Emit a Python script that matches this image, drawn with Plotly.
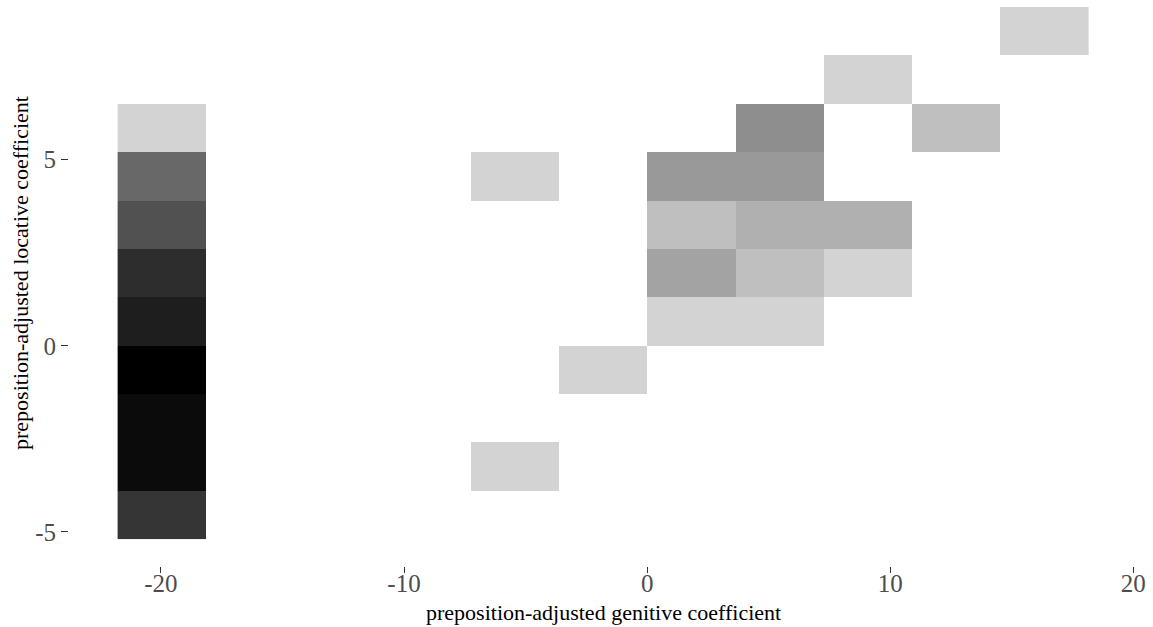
import numpy as np
import plotly.graph_objects as go

# ---- data: 2-D binned counts (bin centres) ----
bin_w_x = 3.63
bin_w_y = 1.3
cell_x = [-19.965, -19.965, -19.965, -19.965, -19.965, -19.965, -19.965, -19.965, -19.965,
          -5.445, -5.445, -1.815,
          1.815, 1.815, 1.815, 1.815,
          5.445, 5.445, 5.445, 5.445, 5.445,
          9.075, 9.075, 9.075,
          12.705, 16.335]
cell_y = [-4.55, -3.25, -1.95, -0.65, 0.65, 1.95, 3.25, 4.55, 5.85,
          -3.25, 4.55, -0.65,
          0.65, 1.95, 3.25, 4.55,
          0.65, 1.95, 3.25, 4.55, 5.85,
          1.95, 3.25, 7.15,
          5.85, 8.45]
cell_n = [21, 32, 32, 34, 27, 23, 15, 11, 1,
          1, 1, 1,
          1, 4, 2, 5,
          1, 2, 3, 5, 6,
          1, 3, 1,
          2, 1]

x_ticks = [-20, -10, 0, 10, 20]
y_ticks = [-5, 0, 5]

# ---- build grid ----
xs = np.round(np.arange(min(cell_x), max(cell_x) + bin_w_x / 2, bin_w_x), 3)
ys = np.round(np.arange(min(cell_y), max(cell_y) + bin_w_y / 2, bin_w_y), 3)
z = np.full((len(ys), len(xs)), np.nan)
cnt = np.full((len(ys), len(xs)), np.nan)
for cx, cy, n in zip(cell_x, cell_y, cell_n):
    i = int(np.argmin(np.abs(ys - cy)))
    j = int(np.argmin(np.abs(xs - cx)))
    z[i, j] = np.sqrt(n)
    cnt[i, j] = n


# colour scale: lightgray -> black, interpolated in Lab lightness
def lab_gray(L):
    fy = (L + 16) / 116
    Y = fy ** 3 if L > 8 else L / 903.3
    s = 12.92 * Y if Y <= 0.0031308 else 1.055 * Y ** (1 / 2.4) - 0.055
    v = int(round(max(0, min(1, s)) * 255))
    return f"rgb({v},{v},{v})"


L_low = 84.56
stops = np.linspace(0, 1, 21)
colorscale = [[float(t), lab_gray(L_low * (1 - t))] for t in stops]

z_list = [[None if np.isnan(v) else float(v) for v in row] for row in z]
c_list = [[None if np.isnan(v) else int(v) for v in row] for row in cnt]

fig = go.Figure(go.Heatmap(
    x=xs, y=ys, z=z_list, customdata=c_list,
    colorscale=colorscale, zmin=1, zmax=float(np.sqrt(max(cell_n))),
    showscale=False,
    hovertemplate="x=%{x}<br>y=%{y}<br>count=%{customdata}<extra></extra>",
))

W, H = 1153, 627
ml, mr, mt, mb = 69, 16, 0, 61
pw, ph = W - ml - mr, H - mt - mb

serif = "Liberation Serif, Times New Roman, serif"
fig.update_layout(
    width=W, height=H,
    margin=dict(l=ml, r=mr, t=mt, b=mb, pad=0, autoexpand=False),
    plot_bgcolor="white", paper_bgcolor="white",
    font=dict(family=serif, color="black"),
    showlegend=False,
)
fig.update_xaxes(
    range=[-23.78, 20.15], showgrid=False, zeroline=False, showline=False,
    tickmode="array", tickvals=x_ticks, ticktext=[f"{v:g}" for v in x_ticks],
    ticks="outside", ticklen=6, tickwidth=1, tickcolor="#333333",
    tickfont=dict(family=serif, size=25, color="#4D4D4D"),
    ticklabelstandoff=-11, automargin=False,
)
fig.update_yaxes(
    range=[-5.915, 9.29], showgrid=False, zeroline=False, showline=False,
    tickmode="array", tickvals=y_ticks, ticktext=[f"{v:g}" for v in y_ticks],
    ticks="outside", ticklen=7, tickwidth=1, tickcolor="#333333",
    tickfont=dict(family=serif, size=25, color="#4D4D4D"),
    automargin=False,
)
fig.add_annotation(
    text="preposition-adjusted genitive coefficient",
    xref="paper", yref="paper", x=0.5, y=(ph - 612) / ph,
    xanchor="center", yanchor="middle", showarrow=False,
    font=dict(family=serif, size=22, color="black"),
)
fig.add_annotation(
    text="preposition-adjusted locative coefficient",
    xref="paper", yref="paper", x=(20 - ml) / pw, y=(ph - 273) / ph,
    xanchor="center", yanchor="middle", textangle=-90, showarrow=False,
    font=dict(family=serif, size=22, color="black"),
)

fig.write_html("out.html",
               config={"displayModeBar": False},
               post_script="document.body.style.margin='0';document.body.style.overflow='hidden';")
